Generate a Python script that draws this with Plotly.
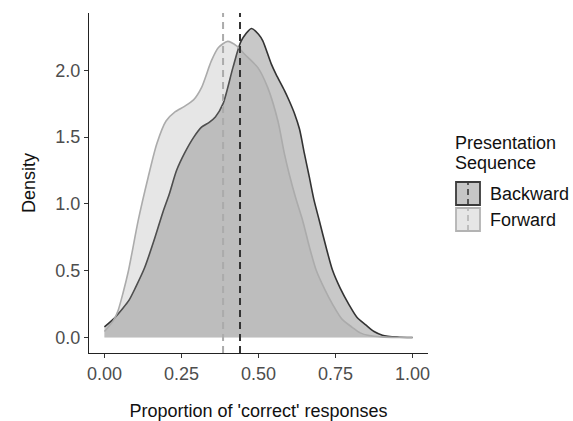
import plotly.graph_objects as go

# ---- data ----
backward_x = [0.00, 0.03, 0.06, 0.08, 0.10, 0.13, 0.16, 0.19, 0.21, 0.234, 0.26, 0.29, 0.315,
              0.34, 0.36, 0.385, 0.417, 0.444, 0.477, 0.50, 0.514, 0.541, 0.557, 0.584, 0.60,
              0.617, 0.633, 0.649, 0.665, 0.68, 0.697, 0.72, 0.74, 0.765, 0.794, 0.82, 0.848,
              0.875, 0.902, 0.95, 1.00]
backward_y = [0.08, 0.14, 0.22, 0.28, 0.37, 0.52, 0.72, 0.94, 1.07, 1.25, 1.38, 1.50, 1.575,
              1.61, 1.65, 1.75, 2.02, 2.22, 2.313, 2.27, 2.22, 2.05, 1.97, 1.85, 1.77,
              1.675, 1.56, 1.376, 1.20, 1.03, 0.878, 0.67, 0.505, 0.37, 0.245, 0.15, 0.095,
              0.045, 0.018, 0.004, 0.0]

forward_x = [0.00, 0.03, 0.045, 0.06, 0.078, 0.11, 0.142, 0.17, 0.20, 0.23, 0.26, 0.29, 0.315,
             0.347, 0.37, 0.40, 0.43, 0.455, 0.498, 0.53, 0.563, 0.584, 0.60, 0.62, 0.643,
             0.665, 0.687, 0.715, 0.74, 0.77, 0.805, 0.83, 0.859, 0.90, 0.95, 1.00]
forward_y = [0.045, 0.13, 0.207, 0.33, 0.50, 0.88, 1.20, 1.45, 1.62, 1.69, 1.73, 1.78, 1.87,
             2.07, 2.17, 2.216, 2.18, 2.12, 2.02, 1.87, 1.62, 1.376, 1.22, 1.05, 0.878,
             0.68, 0.505, 0.36, 0.25, 0.14, 0.075, 0.035, 0.015, 0.005, 0.001, 0.0]

mean_backward = 0.44
mean_forward = 0.385

series_names = ["Backward", "Forward"]
legend_title_lines = ["Presentation", "Sequence"]
x_ticks = [0.0, 0.25, 0.5, 0.75, 1.0]
y_ticks = [0.0, 0.5, 1.0, 1.5, 2.0]

# ---- styles ----
W, H = 573, 421
ML, MR, MT, MB = 89, 145, 13, 68
FONT = "Liberation Sans, Arial, sans-serif"
FS = 18
back_fill = "rgba(40,40,40,0.255)"
back_line = "#333333"
fwd_fill = "rgba(157,157,157,0.255)"
fwd_line = "#ababab"

fig = go.Figure()
fig.add_trace(go.Scatter(x=backward_x, y=backward_y, mode="lines", fill="tozeroy",
                         fillcolor=back_fill,
                         line=dict(color=back_line, width=1.6, shape="spline", smoothing=0.7),
                         name=series_names[0], showlegend=False))
fig.add_trace(go.Scatter(x=forward_x, y=forward_y, mode="lines", fill="tozeroy",
                         fillcolor=fwd_fill,
                         line=dict(color=fwd_line, width=1.6, shape="spline", smoothing=0.7),
                         name=series_names[1], showlegend=False))

# mean lines
fig.add_shape(type="line", xref="x", yref="paper", x0=mean_forward, x1=mean_forward, y0=0, y1=1,
              line=dict(color=fwd_line, width=2, dash="7px,5px"))
fig.add_shape(type="line", xref="x", yref="paper", x0=mean_backward, x1=mean_backward, y0=0, y1=1,
              line=dict(color=back_line, width=2, dash="7px,5px"))

# ---- custom legend (paper coordinates from pixel positions) ----
pw, ph = W - ML - MR, H - MT - MB
def px(xp):
    return (xp - ML) / pw
def py(yp):
    return (H - MB - yp) / ph

for i, line_text in enumerate(legend_title_lines):
    fig.add_annotation(xref="paper", yref="paper", x=px(453), y=py(143 + 20 * i), text=line_text,
                       showarrow=False, xanchor="left", yanchor="middle", align="left",
                       font=dict(family=FONT, size=FS, color="#111111"))
legend_items = [
    (series_names[0], "#c6c6c6", "#3a3a3a", 181),
    (series_names[1], "#e6e6e6", "#b3b3b3", 207),
]
for name, fillc, linec, top in legend_items:
    fig.add_shape(type="rect", xref="paper", yref="paper",
                  x0=px(456), x1=px(480), y0=py(top + 24), y1=py(top + 1),
                  fillcolor=fillc, line=dict(color=linec, width=1.8))
    fig.add_shape(type="line", xref="paper", yref="paper",
                  x0=px(468), x1=px(468), y0=py(top + 24), y1=py(top + 1),
                  line=dict(color=linec, width=1.6, dash="6px,4px"))
    fig.add_annotation(xref="paper", yref="paper", x=px(488), y=py(top + 12.5), text=name,
                       showarrow=False, xanchor="left", yanchor="middle",
                       font=dict(family=FONT, size=FS, color="#111111"))

axis_common = dict(showgrid=False, zeroline=False, showline=True, linecolor="#222222",
                   linewidth=1.3, ticks="outside", ticklen=4, tickwidth=1.2, tickcolor="#333333",
                   tickfont=dict(family=FONT, size=FS, color="#4d4d4d"), automargin=False)

fig.update_layout(
    width=W, height=H,
    margin=dict(l=ML, r=MR, t=MT, b=MB),
    paper_bgcolor="white", plot_bgcolor="white",
    font=dict(family=FONT),
    xaxis=dict(range=[-0.05, 1.05], tickvals=x_ticks, tickformat=".2f",
               title=dict(text="Proportion of 'correct' responses", standoff=25,
                          font=dict(family=FONT, size=FS, color="#111111")),
               **axis_common),
    yaxis=dict(range=[-0.1155, 2.4285], tickvals=y_ticks, tickformat=".1f",
               title=dict(text="Density", standoff=14,
                          font=dict(family=FONT, size=FS, color="#111111")),
               **axis_common),
    showlegend=False,
)

fig.write_html("out.html")
